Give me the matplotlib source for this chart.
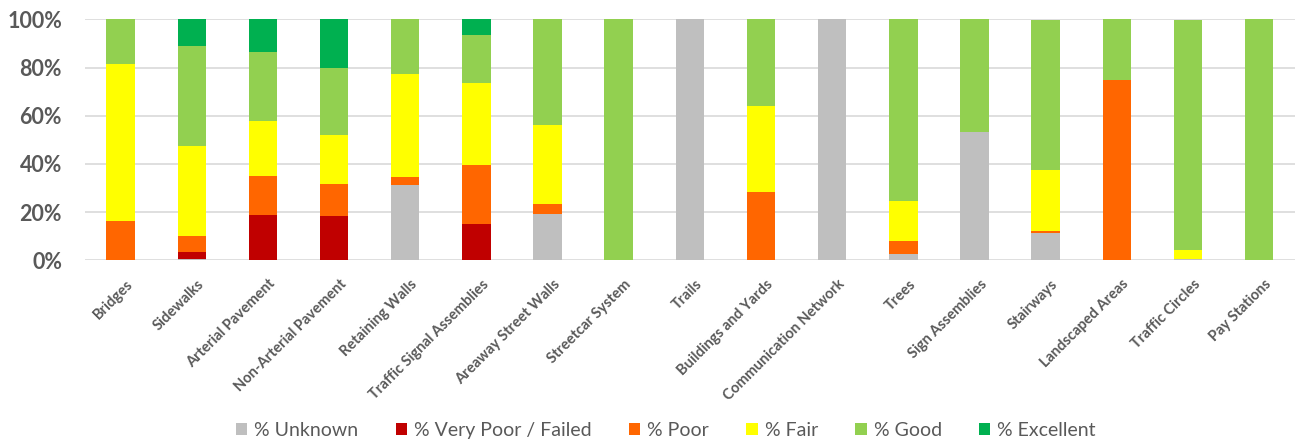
#!/usr/bin/env python

import matplotlib.pyplot as plt
import matplotlib.transforms as mtransforms
import numpy as np
from matplotlib.ticker import PercentFormatter

# asset categories along the x axis
categories = [
    "Bridges", "Sidewalks", "Arterial Pavement", "Non-Arterial Pavement",
    "Retaining Walls", "Traffic Signal Assemblies", "Areaway Street Walls",
    "Streetcar System", "Trails", "Buildings and Yards", "Communication Network",
    "Trees", "Sign Assemblies", "Stairways", "Landscaped Areas",
    "Traffic Circles", "Pay Stations",
]

# share of each condition rating, in percent
unknown = [0, 0.5, 0, 0, 31.1, 0, 19.1, 0, 100, 0, 100, 2.6, 53.3, 11.2, 0, 0.5, 0]
very_poor = [0, 2.8, 18.8, 18.4, 0, 15.1, 0, 0, 0, 0, 0, 0, 0, 0.3, 0, 0, 0]
poor = [16.5, 6.7, 16.2, 13.1, 3.6, 24.5, 4.1, 0, 0, 28.2, 0, 5.3, 0, 0.5, 75.0, 0, 0]
fair = [65.2, 37.6, 23.0, 20.4, 42.5, 34.0, 33.0, 0, 0, 35.7, 0, 16.9, 0, 25.6, 0, 3.9, 0]
good = [18.3, 41.3, 28.6, 27.8, 22.8, 19.9, 43.8, 100, 0, 36.1, 0, 75.2, 46.7, 62.1, 25.0, 95.2, 100]
excellent = [0, 11.1, 13.4, 20.3, 0, 6.5, 0, 0, 0, 0, 0, 0, 0, 0, 0, 0, 0]

series = [
    ("% Unknown", unknown, "#BFBFBF"),
    ("% Very Poor / Failed", very_poor, "#C00000"),
    ("% Poor", poor, "#FF6600"),
    ("% Fair", fair, "#FFFF00"),
    ("% Good", good, "#92D050"),
    ("% Excellent", excellent, "#00B050"),
]

plt.rcParams["font.family"] = ["Lato", "DejaVu Sans"]

fig = plt.figure(figsize=(12.98, 4.43), dpi=100)
ax = fig.add_axes([0.0655, 0.4124, 0.932, 0.5436])

x = np.arange(len(categories))
bottom = np.zeros(len(categories))
for label, vals, color in series:
    vals = np.array(vals, dtype=float)
    ax.bar(x, vals, 0.4, bottom=bottom, color=color, label=label, zorder=2)
    bottom += vals

ax.set_xlim(-0.5, len(categories) - 0.5)
ax.set_ylim(0, 100)
ax.set_yticks(np.arange(0, 101, 20))
ax.yaxis.set_major_formatter(PercentFormatter(decimals=0))
ax.grid(axis="y", color="#D9D9D9", linewidth=1.2, zorder=0)
for s in ax.spines.values():
    s.set_visible(False)
ax.tick_params(axis="both", length=0, colors="#595959")
ax.tick_params(axis="y", labelsize=15.5, pad=16.5)
for t in ax.get_yticklabels():
    t.set_fontweight("bold")

ax.set_xticks(x)
ax.set_xticklabels(categories, rotation=45, ha="right", rotation_mode="anchor",
                   fontsize=10.5, fontweight="bold", color="#595959")
ax.tick_params(axis="x", pad=12)
shift = mtransforms.ScaledTranslation(5 / 100, 0, fig.dpi_scale_trans)
for t in ax.get_xticklabels():
    t.set_transform(t.get_transform() + shift)

leg = fig.legend(loc="center", bbox_to_anchor=(0.513, 0.029), ncol=6, frameon=False,
                 fontsize=14, handlelength=0.6, handleheight=0.6,
                 handletextpad=0.36, columnspacing=1.9)
for t in leg.get_texts():
    t.set_color("#595959")

plt.savefig("out.png", dpi=100)
